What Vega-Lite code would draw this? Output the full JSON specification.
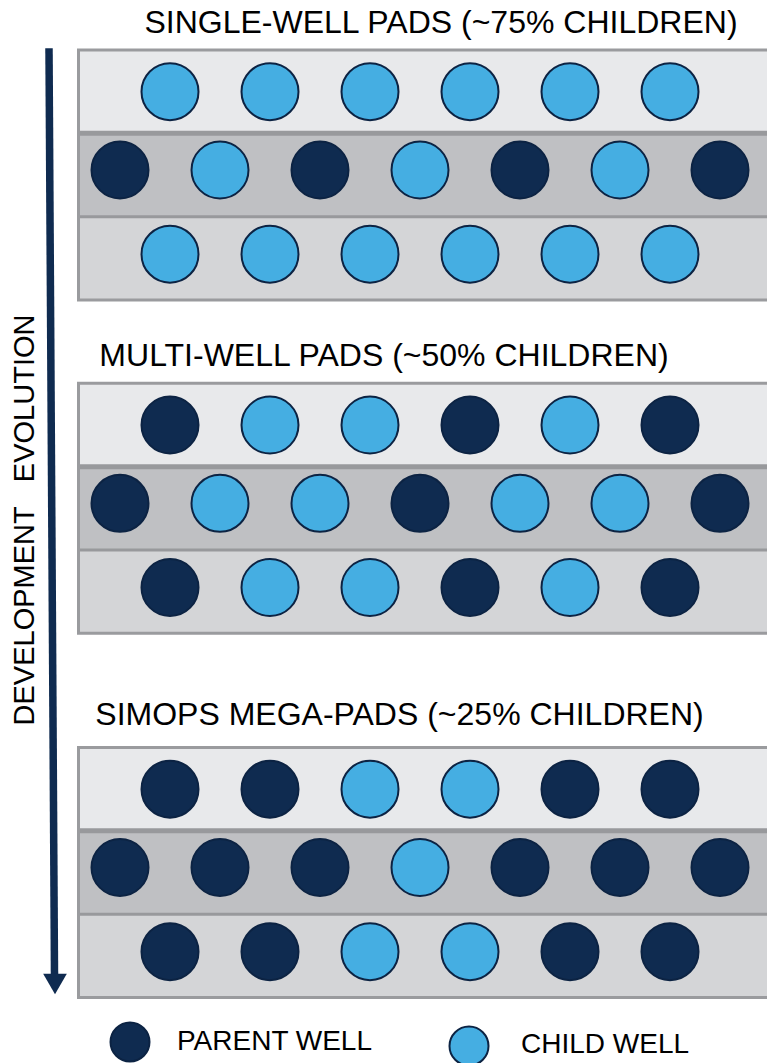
{
  "$schema": "https://vega.github.io/schema/vega-lite/v6.json",
  "width": 767,
  "height": 1063,
  "padding": 0,
  "autosize": {"type": "none"},
  "background": "white",
  "config": {"view": {"stroke": null}, "font": "Liberation Sans"},
  "datasets": {
    "bands": [
      {"panel": 1, "row": "1", "top": 0, "bottom": 1},
      {"panel": 1, "row": "2", "top": 1, "bottom": 2},
      {"panel": 1, "row": "3", "top": 2, "bottom": 3},
      {"panel": 2, "row": "1", "top": 4, "bottom": 5},
      {"panel": 2, "row": "2", "top": 5, "bottom": 6},
      {"panel": 2, "row": "3", "top": 6, "bottom": 7},
      {"panel": 3, "row": "1", "top": 8.37, "bottom": 9.37},
      {"panel": 3, "row": "2", "top": 9.37, "bottom": 10.37},
      {"panel": 3, "row": "3", "top": 10.37, "bottom": 11.37}
    ],
    "separators": [
      {"panel": 1, "lane": 1, "kind": "upper"},
      {"panel": 1, "lane": 2, "kind": "lower"},
      {"panel": 2, "lane": 5, "kind": "upper"},
      {"panel": 2, "lane": 6, "kind": "lower"},
      {"panel": 3, "lane": 9.37, "kind": "upper"},
      {"panel": 3, "lane": 10.37, "kind": "lower"}
    ],
    "panels": [
      {"panel": 1, "top": 0, "bottom": 3, "title": "SINGLE-WELL PADS (~75% CHILDREN)", "tslot": 6.42, "tlane": -0.204},
      {"panel": 2, "top": 4, "bottom": 7, "title": "MULTI-WELL PADS (~50% CHILDREN)", "tslot": 5.28, "tlane": 3.792},
      {"panel": 3, "top": 8.37, "bottom": 11.37, "title": "SIMOPS MEGA-PADS (~25% CHILDREN)", "tslot": 5.59, "tlane": 8.1}
    ],
    "wells": [
      {"panel": 1, "row": 1, "slot": 1, "lane": 0.5, "type": "CHILD WELL"},
      {"panel": 1, "row": 1, "slot": 3, "lane": 0.5, "type": "CHILD WELL"},
      {"panel": 1, "row": 1, "slot": 5, "lane": 0.5, "type": "CHILD WELL"},
      {"panel": 1, "row": 1, "slot": 7, "lane": 0.5, "type": "CHILD WELL"},
      {"panel": 1, "row": 1, "slot": 9, "lane": 0.5, "type": "CHILD WELL"},
      {"panel": 1, "row": 1, "slot": 11, "lane": 0.5, "type": "CHILD WELL"},
      {"panel": 1, "row": 2, "slot": 0, "lane": 1.44, "type": "PARENT WELL"},
      {"panel": 1, "row": 2, "slot": 2, "lane": 1.44, "type": "CHILD WELL"},
      {"panel": 1, "row": 2, "slot": 4, "lane": 1.44, "type": "PARENT WELL"},
      {"panel": 1, "row": 2, "slot": 6, "lane": 1.44, "type": "CHILD WELL"},
      {"panel": 1, "row": 2, "slot": 8, "lane": 1.44, "type": "PARENT WELL"},
      {"panel": 1, "row": 2, "slot": 10, "lane": 1.44, "type": "CHILD WELL"},
      {"panel": 1, "row": 2, "slot": 12, "lane": 1.44, "type": "PARENT WELL"},
      {"panel": 1, "row": 3, "slot": 1, "lane": 2.45, "type": "CHILD WELL"},
      {"panel": 1, "row": 3, "slot": 3, "lane": 2.45, "type": "CHILD WELL"},
      {"panel": 1, "row": 3, "slot": 5, "lane": 2.45, "type": "CHILD WELL"},
      {"panel": 1, "row": 3, "slot": 7, "lane": 2.45, "type": "CHILD WELL"},
      {"panel": 1, "row": 3, "slot": 9, "lane": 2.45, "type": "CHILD WELL"},
      {"panel": 1, "row": 3, "slot": 11, "lane": 2.45, "type": "CHILD WELL"},
      {"panel": 2, "row": 1, "slot": 1, "lane": 4.5, "type": "PARENT WELL"},
      {"panel": 2, "row": 1, "slot": 3, "lane": 4.5, "type": "CHILD WELL"},
      {"panel": 2, "row": 1, "slot": 5, "lane": 4.5, "type": "CHILD WELL"},
      {"panel": 2, "row": 1, "slot": 7, "lane": 4.5, "type": "PARENT WELL"},
      {"panel": 2, "row": 1, "slot": 9, "lane": 4.5, "type": "CHILD WELL"},
      {"panel": 2, "row": 1, "slot": 11, "lane": 4.5, "type": "PARENT WELL"},
      {"panel": 2, "row": 2, "slot": 0, "lane": 5.44, "type": "PARENT WELL"},
      {"panel": 2, "row": 2, "slot": 2, "lane": 5.44, "type": "CHILD WELL"},
      {"panel": 2, "row": 2, "slot": 4, "lane": 5.44, "type": "CHILD WELL"},
      {"panel": 2, "row": 2, "slot": 6, "lane": 5.44, "type": "PARENT WELL"},
      {"panel": 2, "row": 2, "slot": 8, "lane": 5.44, "type": "CHILD WELL"},
      {"panel": 2, "row": 2, "slot": 10, "lane": 5.44, "type": "CHILD WELL"},
      {"panel": 2, "row": 2, "slot": 12, "lane": 5.44, "type": "PARENT WELL"},
      {"panel": 2, "row": 3, "slot": 1, "lane": 6.45, "type": "PARENT WELL"},
      {"panel": 2, "row": 3, "slot": 3, "lane": 6.45, "type": "CHILD WELL"},
      {"panel": 2, "row": 3, "slot": 5, "lane": 6.45, "type": "CHILD WELL"},
      {"panel": 2, "row": 3, "slot": 7, "lane": 6.45, "type": "PARENT WELL"},
      {"panel": 2, "row": 3, "slot": 9, "lane": 6.45, "type": "CHILD WELL"},
      {"panel": 2, "row": 3, "slot": 11, "lane": 6.45, "type": "PARENT WELL"},
      {"panel": 3, "row": 1, "slot": 1, "lane": 8.87, "type": "PARENT WELL"},
      {"panel": 3, "row": 1, "slot": 3, "lane": 8.87, "type": "PARENT WELL"},
      {"panel": 3, "row": 1, "slot": 5, "lane": 8.87, "type": "CHILD WELL"},
      {"panel": 3, "row": 1, "slot": 7, "lane": 8.87, "type": "CHILD WELL"},
      {"panel": 3, "row": 1, "slot": 9, "lane": 8.87, "type": "PARENT WELL"},
      {"panel": 3, "row": 1, "slot": 11, "lane": 8.87, "type": "PARENT WELL"},
      {"panel": 3, "row": 2, "slot": 0, "lane": 9.81, "type": "PARENT WELL"},
      {"panel": 3, "row": 2, "slot": 2, "lane": 9.81, "type": "PARENT WELL"},
      {"panel": 3, "row": 2, "slot": 4, "lane": 9.81, "type": "PARENT WELL"},
      {"panel": 3, "row": 2, "slot": 6, "lane": 9.81, "type": "CHILD WELL"},
      {"panel": 3, "row": 2, "slot": 8, "lane": 9.81, "type": "PARENT WELL"},
      {"panel": 3, "row": 2, "slot": 10, "lane": 9.81, "type": "PARENT WELL"},
      {"panel": 3, "row": 2, "slot": 12, "lane": 9.81, "type": "PARENT WELL"},
      {"panel": 3, "row": 3, "slot": 1, "lane": 10.82, "type": "PARENT WELL"},
      {"panel": 3, "row": 3, "slot": 3, "lane": 10.82, "type": "PARENT WELL"},
      {"panel": 3, "row": 3, "slot": 5, "lane": 10.82, "type": "CHILD WELL"},
      {"panel": 3, "row": 3, "slot": 7, "lane": 10.82, "type": "CHILD WELL"},
      {"panel": 3, "row": 3, "slot": 9, "lane": 10.82, "type": "PARENT WELL"},
      {"panel": 3, "row": 3, "slot": 11, "lane": 10.82, "type": "PARENT WELL"}
    ],
    "arrow": [
      {"slot": -1.42, "lane": -0.02, "slot2": -1.31, "lane2": 11.09}
    ],
    "arrowhead": [
      {"slot": -1.3, "lane": 11.208}
    ],
    "sidelabel": [
      {"label": "DEVELOPMENT\u00a0\u00a0\u00a0EVOLUTION", "slot": -1.72, "lane": 5.64}
    ],
    "legend": [
      {"type": "PARENT WELL", "slot": 0.2, "lane": 11.904, "tslot": 1.14, "tlane": 11.994},
      {"type": "CHILD WELL", "slot": 6.98, "lane": 11.952, "tslot": 8.02, "tlane": 12.036}
    ]
  },
  "layer": [
    {
      "data": {"name": "bands"},
      "mark": {"type": "rect", "clip": true},
      "encoding": {
        "x": {"datum": -0.83, "type": "quantitative", "scale": {"domain": [-2.4, 12.94], "nice": false, "zero": false}, "axis": null},
        "x2": {"datum": 13.6},
        "y": {"field": "top", "type": "quantitative", "scale": {"domain": [-0.6, 12.156], "nice": false, "zero": false, "reverse": true}, "axis": null},
        "y2": {"field": "bottom"},
        "color": {"field": "row", "type": "nominal", "scale": {"domain": ["1", "2", "3"], "range": ["#e8e9eb", "#bfc0c3", "#d4d5d7"]}, "legend": null}
      }
    },
    {
      "data": {"name": "separators"},
      "mark": {"type": "rule", "clip": true, "color": "#98999c"},
      "encoding": {
        "x": {"datum": -0.83, "type": "quantitative", "scale": {"domain": [-2.4, 12.94], "nice": false, "zero": false}, "axis": null},
        "x2": {"datum": 13.6},
        "y": {"field": "lane", "type": "quantitative", "scale": {"domain": [-0.6, 12.156], "nice": false, "zero": false, "reverse": true}, "axis": null},
        "strokeWidth": {"field": "kind", "type": "nominal", "scale": {"domain": ["upper", "lower"], "range": [5, 3]}, "legend": null}
      }
    },
    {
      "data": {"name": "panels"},
      "mark": {"type": "rect", "clip": true, "fill": "transparent", "stroke": "#9a9b9e", "strokeWidth": 3},
      "encoding": {
        "x": {"datum": -0.83, "type": "quantitative", "scale": {"domain": [-2.4, 12.94], "nice": false, "zero": false}, "axis": null},
        "x2": {"datum": 13.6},
        "y": {"field": "top", "type": "quantitative", "scale": {"domain": [-0.6, 12.156], "nice": false, "zero": false, "reverse": true}, "axis": null},
        "y2": {"field": "bottom"}
      }
    },
    {
      "data": {"name": "panels"},
      "mark": {"type": "text", "font": "Liberation Sans", "fontSize": 32, "color": "#000000", "align": "center", "baseline": "alphabetic"},
      "encoding": {
        "x": {"field": "tslot", "type": "quantitative", "scale": {"domain": [-2.4, 12.94], "nice": false, "zero": false}, "axis": null},
        "y": {"field": "tlane", "type": "quantitative", "scale": {"domain": [-0.6, 12.156], "nice": false, "zero": false, "reverse": true}, "axis": null},
        "text": {"field": "title"}
      }
    },
    {
      "data": {"name": "wells"},
      "mark": {"type": "point", "shape": "circle", "filled": true, "opacity": 1, "size": 3249, "stroke": "#0c2343", "strokeWidth": 2},
      "encoding": {
        "x": {"field": "slot", "type": "quantitative", "scale": {"domain": [-2.4, 12.94], "nice": false, "zero": false}, "axis": null},
        "y": {"field": "lane", "type": "quantitative", "scale": {"domain": [-0.6, 12.156], "nice": false, "zero": false, "reverse": true}, "axis": null},
        "fill": {"field": "type", "type": "nominal", "scale": {"domain": ["PARENT WELL", "CHILD WELL"], "range": ["#0f2b50", "#45aee2"]}, "legend": null}
      }
    },
    {
      "data": {"name": "arrow"},
      "mark": {"type": "rule", "color": "#0f2b50", "strokeWidth": 7.5},
      "encoding": {
        "x": {"field": "slot", "type": "quantitative", "scale": {"domain": [-2.4, 12.94], "nice": false, "zero": false}, "axis": null},
        "x2": {"field": "slot2"},
        "y": {"field": "lane", "type": "quantitative", "scale": {"domain": [-0.6, 12.156], "nice": false, "zero": false, "reverse": true}, "axis": null},
        "y2": {"field": "lane2"}
      }
    },
    {
      "data": {"name": "arrowhead"},
      "mark": {"type": "point", "shape": "triangle-down", "filled": true, "opacity": 1, "size": 560, "color": "#0f2b50"},
      "encoding": {
        "x": {"field": "slot", "type": "quantitative", "scale": {"domain": [-2.4, 12.94], "nice": false, "zero": false}, "axis": null},
        "y": {"field": "lane", "type": "quantitative", "scale": {"domain": [-0.6, 12.156], "nice": false, "zero": false, "reverse": true}, "axis": null}
      }
    },
    {
      "data": {"name": "sidelabel"},
      "mark": {"type": "text", "font": "Liberation Sans", "fontSize": 29, "color": "#000000", "angle": 270, "align": "center", "baseline": "alphabetic"},
      "encoding": {
        "x": {"field": "slot", "type": "quantitative", "scale": {"domain": [-2.4, 12.94], "nice": false, "zero": false}, "axis": null},
        "y": {"field": "lane", "type": "quantitative", "scale": {"domain": [-0.6, 12.156], "nice": false, "zero": false, "reverse": true}, "axis": null},
        "text": {"field": "label"}
      }
    },
    {
      "data": {"name": "legend"},
      "mark": {"type": "point", "shape": "circle", "filled": true, "opacity": 1, "size": 1521, "stroke": "#0c2343", "strokeWidth": 2},
      "encoding": {
        "x": {"field": "slot", "type": "quantitative", "scale": {"domain": [-2.4, 12.94], "nice": false, "zero": false}, "axis": null},
        "y": {"field": "lane", "type": "quantitative", "scale": {"domain": [-0.6, 12.156], "nice": false, "zero": false, "reverse": true}, "axis": null},
        "fill": {"field": "type", "type": "nominal", "scale": {"domain": ["PARENT WELL", "CHILD WELL"], "range": ["#0f2b50", "#45aee2"]}, "legend": null}
      }
    },
    {
      "data": {"name": "legend"},
      "mark": {"type": "text", "font": "Liberation Sans", "fontSize": 28, "color": "#000000", "align": "left", "baseline": "alphabetic"},
      "encoding": {
        "x": {"field": "tslot", "type": "quantitative", "scale": {"domain": [-2.4, 12.94], "nice": false, "zero": false}, "axis": null},
        "y": {"field": "tlane", "type": "quantitative", "scale": {"domain": [-0.6, 12.156], "nice": false, "zero": false, "reverse": true}, "axis": null},
        "text": {"field": "type"}
      }
    }
  ]
}
